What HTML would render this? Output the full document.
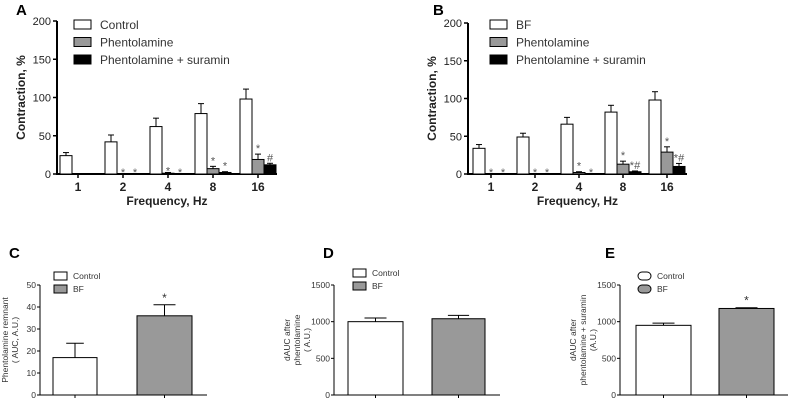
<!DOCTYPE html>
<html><head><meta charset="utf-8"><style>
body{margin:0;background:#fff;width:793px;height:403px;overflow:hidden;font-family:"Liberation Sans",Arial,sans-serif}
svg{position:absolute;left:0;top:0}
</style></head><body>
<svg id="s" width="793" height="403"></svg>
<script>
// Panel A data
const freqs=["1","2","4","8","16"];
const aControl=[24,42,62,79,98];
const aControlErr=[4,9,11,13,13];
const aPhen=[0,0,1,7,19];
const aPhenErr=[0,0,1,3,7];
const aSur=[0,0,0,2,12];
const aSurErr=[0,0,0,1,2];
// Panel B data
const bControl=[34,49,66,82,98];
const bControlErr=[5,5,9,9,11];
const bPhen=[0,0,2,13,29];
const bPhenErr=[0,0,1,4,7];
const bSur=[0,0,0,3,10];
const bSurErr=[0,0,0,1,4];
const yTicksA=[0,50,100,150,200];
// Panels C-E
const cVals=[17,36]; const cErr=[6.5,5];
const dVals=[1000,1040]; const dErr=[50,45];
const eVals=[950,1180]; const eErr=[30,10];
const ticksC=[0,10,20,30,40,50];
const ticksDE=[0,500,1000,1500];

const S=document.getElementById('s');
const NS="http://www.w3.org/2000/svg";
function el(t,a,p){const e=document.createElementNS(NS,t);for(const k in a)e.setAttribute(k,a[k]);(p||S).appendChild(e);return e;}
function txt(x,y,s,a){const e=el('text',Object.assign({x:x,y:y},a));e.textContent=s;return e;}

function errBar(g,cx,yTop,yErr,hw){
  if(yErr>=yTop-0.5)return;
  const l=el('line',{x1:cx,x2:cx,y1:yTop,y2:yErr,stroke:'#000','stroke-width':1},g);
  
  const c=el('line',{x1:cx-hw,x2:cx+hw,y1:yErr,y2:yErr,stroke:'#000','stroke-width':1},g);
  
}

function groupedPanel(o){
  const g=el('g',{});
  const y=v=>o.y0-(v/200)*(o.y0-o.y200);
  const ax=el('path',{d:`M${o.ax},${o.y200}V${o.y0}H${o.axEnd}`,stroke:'#000','stroke-width':2,fill:'none'},g);
  
  yTicksA.forEach(t=>{
    el('line',{x1:o.ax-4,x2:o.ax,y1:y(t),y2:y(t),stroke:'#000','stroke-width':1.5},g);
    const tl=txt(o.ax-6,y(t)+4,t,{'text-anchor':'end','font-size':11,fill:'#222'});
    
  });
  const series=[[o.c,o.ce,'#fff'],[o.p,o.pe,'#999'],[o.s,o.se,'#000']];
  freqs.forEach((f,i)=>{
    const cx=o.x1+i*o.step;
    el('line',{x1:cx,x2:cx,y1:o.y0,y2:o.y0+4,stroke:'#000','stroke-width':1.5},g);
    const tl=txt(cx,o.y0+17,f,{'text-anchor':'middle','font-size':12,'font-weight':'bold',fill:'#222'});
    
    series.forEach((sr,k)=>{
      const v=sr[0][i],e=sr[1][i];const left=cx-18+k*12;
      const yt=y(v);
      if(v>0){
        const r=el('rect',{x:left,y:yt,width:12,height:o.y0-yt,fill:sr[2],stroke:'#000','stroke-width':1},g);
        
        errBar(g,left+6,yt,y(v+e),3);
      }
      if(k>0 && (o.stars[k-1][i])){
        const st=txt(left+6,y(v+e)-2+(v+e<3?4:0),o.stars[k-1][i],{'text-anchor':'middle','font-size':11,fill:'#555'});
        
      }
    });
  });
  const lab=txt(o.lx,o.ly,o.label,{'font-size':15,'font-weight':'bold'});
  
  const xt=txt((o.ax+o.axEnd)/2,o.y0+31,'Frequency,  Hz',{'text-anchor':'middle','font-size':12,'font-weight':'bold',fill:'#222'});
  
  const yt=txt(0,0,'Contraction, %',{'text-anchor':'middle','font-size':12,'font-weight':'bold',fill:'#222',transform:`translate(${o.ax-32},${(o.y0+o.y200)/2}) rotate(-90)`});
  
  o.legend.forEach((n,k)=>{
    const ly=o.legY+k*17.5;
    const r=el('rect',{x:o.legX,y:ly-5,width:17,height:9,fill:['#fff','#999','#000'][k],stroke:'#000','stroke-width':1},g);
    
    const t=txt(o.legX+26,ly+4,n,{'font-size':12,fill:'#333'});
    
  });
}

groupedPanel({name:'panel-a',ax:57,axEnd:277,y0:174,y200:21,x1:78,step:45,c:aControl,ce:aControlErr,p:aPhen,pe:aPhenErr,s:aSur,se:aSurErr,
  stars:[["","*","*","*","*"],["","*","*","*","#"]],label:'A',lx:16,ly:15,legX:74,legY:25,legend:['Control','Phentolamine','Phentolamine + suramin']});
groupedPanel({name:'panel-b',ax:468,axEnd:687,y0:174,y200:23,x1:491,step:44,c:bControl,ce:bControlErr,p:bPhen,pe:bPhenErr,s:bSur,se:bSurErr,
  stars:[["*","*","*","*","*"],["*","*","*","*#","*#"]],label:'B',lx:433,ly:15,legX:490,legY:25,legend:['BF','Phentolamine','Phentolamine + suramin']});

function simplePanel(o){
  const g=el('g',{});
  const y=v=>o.y0-(v/o.max)*(o.y0-o.yTop);
  const ax=el('path',{d:`M${o.ax},${o.yTop}V${o.y0}H${o.axEnd}`,stroke:'#000','stroke-width':1,fill:'none'},g);
  
  o.ticks.forEach(t=>{
    el('line',{x1:o.ax-3,x2:o.ax,y1:y(t),y2:y(t),stroke:'#000'},g);
    const tl=txt(o.ax-4,y(t)+3,t,{'text-anchor':'end','font-size':8.5,fill:'#333'});
    
  });
  o.vals.forEach((v,i)=>{
    const b=o.bars[i];const yt=y(v);
    const r=el('rect',{x:b[0],y:yt,width:b[1]-b[0],height:o.y0-yt,fill:i?'#999':'#fff',stroke:'#000','stroke-width':1},g);
    
    const cx=(b[0]+b[1])/2;
    errBar(g,cx,yt,y(v+o.err[i]),(b[1]-b[0])*0.2);
    el('line',{x1:cx,x2:cx,y1:o.y0,y2:o.y0+3,stroke:'#000'},g);
    if(o.star[i]){const st=txt(cx,y(v+o.err[i])-3,'*',{'text-anchor':'middle','font-size':12,fill:'#333'});
      }
  });
  const lab=txt(o.lx,258,o.label,{'font-size':15,'font-weight':'bold'});
  
  const yl=el('text',{'text-anchor':'middle','font-size':8.5,fill:'#333',transform:`translate(${o.ylx},${(o.y0+o.yTop)/2}) rotate(-90)`},g);
  
  o.ylab.forEach((l,k)=>{const ts=el('tspan',{x:0,dy:k?10:0},yl);ts.textContent=l;});
  ['Control','BF'].forEach((n,k)=>{
    const ly=o.legY+k*13;
    const r=el('rect',{x:o.legX,y:ly-4,width:13,height:8,fill:k?'#999':'#fff',stroke:'#000','stroke-width':1,rx:o.rx||0},g);
    
    const t=txt(o.legX+19,ly+3,n,{'font-size':8.5,fill:'#333'});
    
  });
}
simplePanel({name:'panel-c',ax:40,axEnd:207,y0:395,yTop:285,max:50,ticks:ticksC,vals:cVals,err:cErr,star:[0,1],bars:[[53,97],[137,192]],
  label:'C',lx:9,ylx:8,ylab:['Phentolamine remnant','( AUC, A.U.)'],legX:54,legY:276});
simplePanel({name:'panel-d',ax:334,axEnd:500,y0:395,yTop:285,max:1500,ticks:ticksDE,vals:dVals,err:dErr,star:[0,0],bars:[[348,403],[432,485]],
  label:'D',lx:323,ylx:290,ylab:['dAUC after','phentolamine','( A.U.)'],legX:353,legY:273});
simplePanel({name:'panel-e',ax:620,axEnd:788,y0:395,yTop:285,max:1500,ticks:ticksDE,vals:eVals,err:eErr,star:[0,1],bars:[[636,691],[719,774]],
  label:'E',lx:605,ylx:576,ylab:['dAUC after','phentolamine + suramin','(A.U.)'],legX:638,legY:276,rx:4});
</script>
</body></html>
